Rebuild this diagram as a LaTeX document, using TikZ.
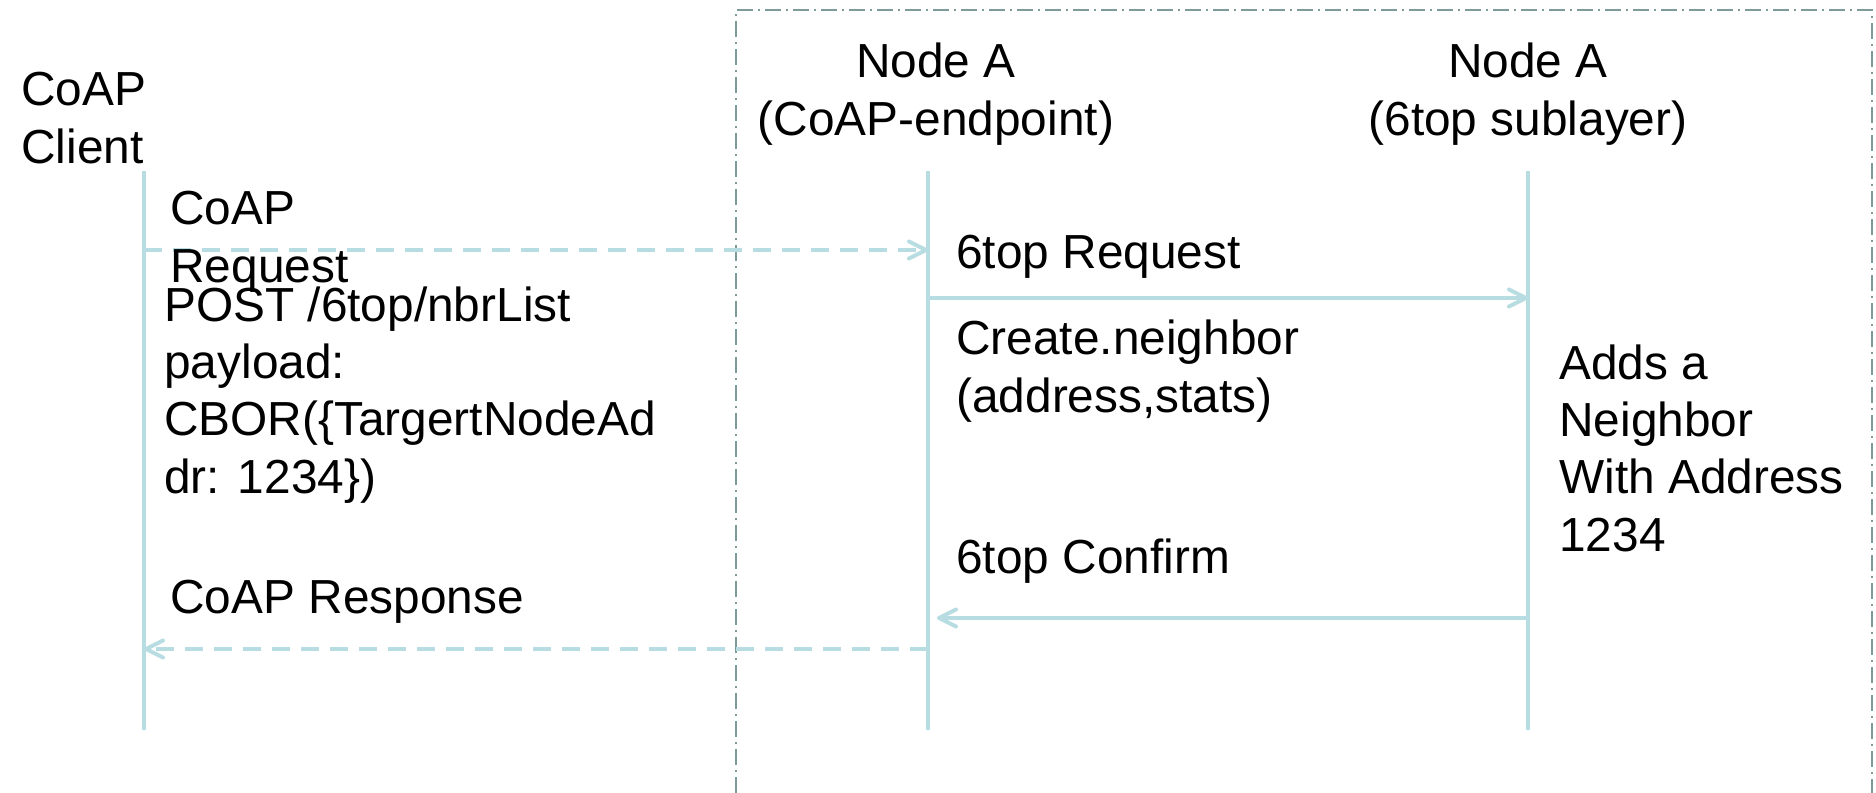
\documentclass[tikz,border=0pt]{standalone}
\usepackage{fontspec}
\setmainfont{Liberation Sans}
\usetikzlibrary{arrows.meta}
\definecolor{life}{RGB}{183,221,226}
\definecolor{framec}{RGB}{125,155,155}
\begin{document}
\begin{tikzpicture}[x=0.5pt,y=-0.5pt,
  txt/.style={inner sep=0pt, align=left, font=\fontsize{23.9}{28.6}\selectfont, anchor=base west},
  ctxt/.style={txt, align=center, anchor=base},
  lifeline/.style={draw=life, line width=2.2pt},
  msg/.style={draw=life, line width=2pt, -{Straight Barb[round,length=8.5pt,width=8.5pt]}},
  dmsg/.style={msg, dash pattern=on 9pt off 5.5pt},
  boxframe/.style={draw=framec, line width=1pt, dash pattern=on 8pt off 2.5pt on 1pt off 2.5pt}]
\useasboundingbox (0,0) rectangle (1876,793);
\fill[white] (0,0) rectangle (1876,793);

% frame around Node A
\coordinate (f1) at (736,793);
\coordinate (f2) at (736,10);
\coordinate (f3) at (1872,10);
\coordinate (f4) at (1872,793);
\draw[boxframe] (f1) -- (f2) -- (f3) -- (f4);

% headers (anchored at the baseline of their last line)
\node[txt] (client) at (21,163) {CoAP\\Client};
\node[ctxt] (nodeA1) at (936,135) {Node A\\(CoAP-endpoint)};
\node[ctxt] (nodeA2) at (1528,135) {Node A\\(6top sublayer)};

% lifelines
\coordinate (L1t) at (144,171);
\coordinate (L1b) at (144,730);
\coordinate (L2t) at (928,171);
\coordinate (L2b) at (928,730);
\coordinate (L3t) at (1528,171);
\coordinate (L3b) at (1528,730);
\draw[lifeline] (L1t) -- (L1b);
\draw[lifeline] (L2t) -- (L2b);
\draw[lifeline] (L3t) -- (L3b);

% message end points
\coordinate (req1) at (144,250);
\coordinate (req2) at (928,250);
\coordinate (top1) at (928,298);
\coordinate (top2) at (1528,298);
\coordinate (conf1) at (1528,618);
\coordinate (conf2) at (937,618);
\coordinate (resp1) at (928,649);
\coordinate (resp2) at (144,649);

\draw[dmsg] (req1) -- (req2);
\draw[msg] (top1) -- (top2);
\draw[msg] (conf1) -- (conf2);
\draw[dmsg] (resp1) -- (resp2);

% labels (anchored at the baseline of their last line)
\node[txt] (lreq) at (170,282) {CoAP\\Request};
\node[txt] (lpost) at (164,493) {POST /6top/nbrList\\payload:\\CBOR(\{TargertNodeAd\\dr: 1234\})};
\node[txt] (l6req) at (956,268) {6top Request};
\node[txt] (lcreate) at (956,412) {Create.neighbor\\(address,stats)};
\node[txt] (ladds) at (1559,551) {Adds a\\Neighbor\\With Address\\1234};
\node[txt] (lconf) at (956,573) {6top Confirm};
\node[txt] (lresp) at (170,613) {CoAP Response};
\end{tikzpicture}
\end{document}
